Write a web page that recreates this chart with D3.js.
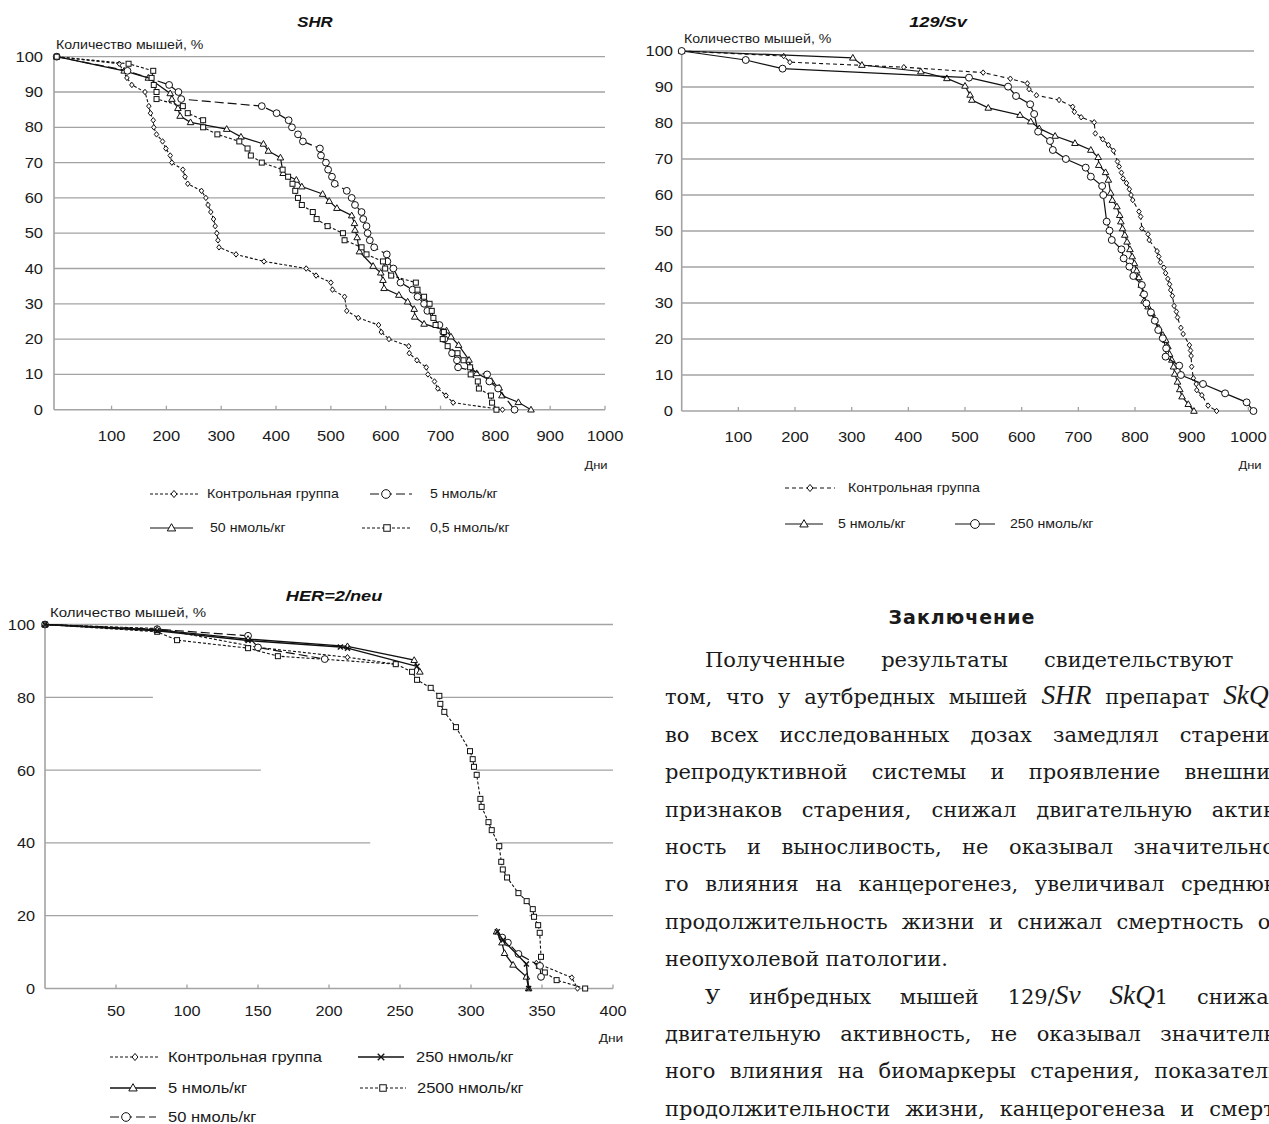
<!DOCTYPE html>
<html><head><meta charset="utf-8">
<script src="https://cdn.jsdelivr.net/npm/d3@7"></script>
<style>body{margin:0;background:#fff}svg{display:block}</style>
</head><body>
<svg id="fig" width="1269" height="1124"></svg>
<script>
// ---------- SHR: survival, % of mice vs days ----------
const shrControl = [[0,100],[114,98],[128,94],[137,92],[161,90],[168,86],[171,84],[176,82],[177,80],[182,78],[193,76],[199,74],[207,72],[210,70],[230,68],[234,66],[239,64],[264,62],[272,60],[276,58],[281,56],[286,54],[289,52],[292,50],[294,48],[296,46],[327,44],[378,42],[455,40],[473,38],[500,36],[503,34],[525,32],[529,28],[550,26],[587,24],[592,22],[606,20],[642,18],[643,16],[657,14],[674,12],[677,10],[689,8],[695,6],[710,4],[723,2],[813,0]];
const shr5 = [[0,100],[129,96],[205,92],[222,90],[227,88],[374,86],[401,84],[423,82],[429,80],[440,78],[449,76],[480,74],[482,72],[491,70],[495,68],[502,66],[507,64],[529,62],[538,60],[544,58],[556,56],[559,54],[565,52],[567,50],[571,48],[579,46],[602,44],[603,42],[614,40],[627,36],[649,34],[658,32],[670,30],[676,28],[698,24],[705,22],[707,20],[721,16],[730,14],[732,12],[785,10],[789,8],[805,6],[835,0]];
const shr50 = [[0,100],[123,96],[167,94],[207,89.6],[210,88],[221,85.4],[225,83.2],[244,81.4],[310,79.5],[336,77.3],[377,75.3],[386,73.3],[408,71.4],[413,67],[437,65.1],[447,63.2],[485,61.1],[497,59.1],[511,57.1],[538,55],[543,52.8],[544,50.9],[548,48.8],[552,44.8],[577,40.7],[591,38.8],[595,36.7],[597,34.4],[624,32.5],[640,30.6],[652,28.5],[653,26.3],[670,24.3],[711,22.4],[719,20.7],[733,18.3],[752,14.1],[754,12.2],[766,10.3],[793,8.1],[807,6.2],[812,4],[842,2.1],[865,0]];
const shr05 = [[0,100],[131,98],[176,96],[173,94],[177,92],[182,90],[182,88],[230,86],[239,84],[267,82],[267,80],[293,78],[333,76],[348,74],[354,72],[374,70],[412,68],[422,66],[430,64],[435,62],[440,60],[447,58],[467,56],[474,54],[494,52],[522,50],[525,48],[556,46],[565,44],[595,42],[599,40],[610,38],[655,36],[658,34],[670,32],[680,30],[684,28],[687,26],[691,24],[706,22],[704,20],[713,18],[731,16],[742,14],[754,12],[755,10],[768,8],[770,6],[792,4],[794,2],[802,0]];

// ---------- 129/Sv ----------
const svControl = [[0,100],[180,98.6],[191,96.9],[392,95.5],[532,94],[580,92.3],[610,91],[613,89.4],[626,87.7],[666,86.4],[690,84.5],[693,83.1],[705,81.6],[728,80.2],[730,77.1],[743,75.5],[753,73.9],[762,72.3],[769,69.3],[772,67.9],[776,66.2],[779,64.6],[785,63.3],[790,61.6],[793,60],[796,58.6],[807,55.4],[810,54],[812,50.7],[823,49.1],[825,47.5],[839,44.4],[842,42.9],[845,41.3],[851,39.8],[854,38.3],[858,36.7],[861,35.2],[863,33.6],[866,32],[869,29.2],[873,27.6],[875,26],[881,23.1],[885,21.4],[896,18.3],[898,16.8],[899,15.3],[900,12.3],[903,9.1],[908,7.5],[909,5.8],[918,4.4],[929,1.5],[944,0]];
const sv5 = [[0,100],[302,98.1],[318,96.1],[422,94.3],[468,92.4],[500,90.3],[509,87.8],[512,86.4],[541,84.2],[597,82.2],[616,80.4],[631,78.5],[659,76.4],[694,74.4],[722,72.5],[735,70.5],[736,68.3],[748,66.3],[753,64.2],[757,60.6],[760,58.6],[768,56.8],[773,54.4],[775,52.6],[778,50.7],[782,48.9],[786,47],[791,44.9],[795,42.9],[799,41],[803,39],[807,37.1],[811,35],[814,32.7],[816,30.6],[823,29],[830,27.1],[835,25.3],[842,23.1],[849,21.1],[854,19.7],[858,17.9],[861,15.8],[865,14.2],[868,12.3],[870,10.3],[875,8.1],[879,6],[883,4],[894,1.9],[904,0]];
const sv250 = [[0,100],[113,97.5],[178,95.1],[507,92.6],[576,90.1],[590,87.5],[615,85.2],[622,82.5],[629,77.6],[650,75],[655,72.5],[678,70],[713,67.6],[722,65.1],[742,62.5],[744,60],[750,52.6],[755,50.1],[759,47.5],[776,44.9],[780,42.4],[790,40.1],[797,37.5],[812,35],[816,32.4],[820,29.9],[828,27.4],[835,25.1],[841,22.5],[849,20.2],[855,17.4],[854,15.1],[878,12.6],[881,10],[920,7.5],[959,4.9],[997,2.4],[1009,0]];

// ---------- HER-2/neu (visible pieces of each curve) ----------
const herControlTop = [[0,100],[79,98.9],[150,93.7],[213,91],[247,89.1]];
const herControlBottom = [[346,7],[371,3],[375,0]];
const her5Top = [[0,100],[79,98.5],[143,96],[213,94],[260,90.2],[264,87]];
const her5Bottom = [[318,15.6],[321.8,12.6],[323.6,9.7],[329.6,6.5],[339,3.2],[340.6,0]];
const her50Top = [[0,100],[79,98.7],[143,96.9],[150,93.7],[197,90.5]];
const her50Bottom = [[322,14],[326,12.6],[333.4,9.5],[348.6,6.2],[349.3,3.2]];
const her250Top = [[0,100],[79,98.3],[143,95.6],[208,93.8],[213,93.5],[262,88.5]];
const her250Bottom = [[318.5,15.6],[322.6,13.3],[339,6.7],[340.6,0]];
const her2500 = [[0,100],[79,98],[93,95.7],[143,93.5],[164,91.3],[247,89.1],[258.5,87],[262,84.8],[271.6,82.6],[277.7,80.4],[278.4,78.2],[281.2,76],[289.4,71.8],[299.3,65.2],[301.2,63],[302.1,60.9],[304,58.7],[306.6,52.1],[307.5,49.9],[312.3,45.7],[314.6,43.5],[319.9,39.1],[321.3,34.8],[322.4,32.7],[325.4,30.5],[333.4,26.2],[339.2,24],[343.5,21.8],[344.4,19.7],[347.3,17.4],[348.4,15.3],[349.3,8.7],[347.8,6.2],[352,4.4],[360.3,2.3],[380.4,0]];
// gridline pieces drawn on this panel: [level, fromDay, toDay]
const herGridSegments = [[100,0,400],[80,0,76],[80,278,400],[60,0,152],[60,304,400],[40,0,229],[40,320,400],[20,0,305],[20,341,400]];

// ---------- tick values ----------
const ticksDays1000 = [100,200,300,400,500,600,700,800,900,1000];
const ticksPct10 = [0,10,20,30,40,50,60,70,80,90,100];
const ticksDays400 = [50,100,150,200,250,300,350,400];
const ticksPct20 = [0,20,40,60,80,100];

// ---------- text ----------
const yAxisTitle = 'Количество мышей, %';
const xAxisTitle = 'Дни';
const heading = 'Заключение';
const bodyLines = [
  {indent:true, justify:true, t:'Полученные результаты свидетельствуют о'},
  {indent:false, justify:true, t:'том, что у аутбредных мышей *SHR* препарат *SkQ*1'},
  {indent:false, justify:true, t:'во всех исследованных дозах замедлял старение'},
  {indent:false, justify:true, t:'репродуктивной системы и проявление внешних'},
  {indent:false, justify:true, t:'признаков старения, снижал двигательную актив-'},
  {indent:false, justify:true, t:'ность и выносливость, не оказывал значительно-'},
  {indent:false, justify:true, t:'го влияния на канцерогенез, увеличивал среднюю'},
  {indent:false, justify:true, t:'продолжительность жизни и снижал смертность от'},
  {indent:false, justify:false, t:'неопухолевой патологии.'},
  {indent:true, justify:true, t:'У инбредных мышей 129/*Sv* *SkQ*1 снижал'},
  {indent:false, justify:true, t:'двигательную активность, не оказывал значитель-'},
  {indent:false, justify:true, t:'ного влияния на биомаркеры старения, показатели'},
  {indent:false, justify:true, t:'продолжительности жизни, канцерогенеза и смерт-'}
];

// ================= drawing =================
const svg = d3.select('#fig');
svg.append('rect').attr('width',1269).attr('height',1124).attr('fill','#fff');
const SANS = '"Liberation Sans", Arial, Helvetica, sans-serif';
const SERIF = '"DejaVu Serif", "Liberation Serif", serif';
const GRID = '#a3a3a3';
const INK = '#111';

// sans label, optionally widened horizontally
function label(g, x, y, str, o) {
  return g.append('text')
    .attr('transform', `translate(${x},${y}) scale(${o.sx || 1},1)`)
    .attr('text-anchor', o.anchor || 'start')
    .attr('dy', o.dy || null)
    .attr('font-family', SANS).attr('font-size', o.size)
    .attr('font-weight', o.weight || null).attr('font-style', o.style || null)
    .attr('fill', o.fill || '#1a1a1a').text(str);
}

function marker(g, type, cx, cy, s) {
  const m = g.append('g').attr('transform', `translate(${cx},${cy})`);
  const st = el => el.attr('fill','#fff').attr('stroke',INK).attr('stroke-width',1);
  if (type === 'circle') st(m.append('circle').attr('r', s*0.62));
  else if (type === 'square') st(m.append('rect').attr('x',-s/2).attr('y',-s/2).attr('width',s).attr('height',s));
  else if (type === 'triangle') st(m.append('path').attr('d',`M0,${-s*0.62}L${s*0.6},${s*0.42}L${-s*0.6},${s*0.42}Z`));
  else if (type === 'diamond') st(m.append('path').attr('d',`M0,${-s*0.55}L${s*0.45},0L0,${s*0.55}L${-s*0.45},0Z`));
  else if (type === 'times') m.append('path').attr('d',`M${-s/2},${-s/2}L${s/2},${s/2}M${-s/2},${s/2}L${s/2},${-s/2}`).attr('stroke',INK).attr('stroke-width',1.4);
}

function drawSeries(g, x, y, pts, st) {
  const line = d3.line().x(d => x(d[0])).y(d => y(d[1]));
  g.append('path').attr('d', line(pts)).attr('fill','none').attr('stroke',INK)
    .attr('stroke-width', st.w || 1).attr('stroke-dasharray', st.dash || null);
  pts.forEach(p => marker(g, st.mark, x(p[0]), y(p[1]), st.size));
}

function drawFrame(g, x, y, o) {
  const [, x1] = x.range();
  const [yb] = y.range();
  if (o.segments) {
    o.segments.forEach(s => g.append('line').attr('x1', x(s[1])).attr('x2', x(s[2]))
      .attr('y1', y(s[0])).attr('y2', y(s[0])).attr('stroke', GRID).attr('stroke-width', 1.3));
  } else {
    o.yTicks.filter(t => t > 0).forEach(t => g.append('line').attr('x1', o.axisX).attr('x2', x1)
      .attr('y1', y(t)).attr('y2', y(t)).attr('stroke', GRID).attr('stroke-width', 1.3));
  }
  g.append('line').attr('x1', o.axisX).attr('x2', o.axisX).attr('y1', y(100)).attr('y2', yb)
    .attr('stroke', GRID).attr('stroke-width', 1.6);
  g.append('line').attr('x1', o.axisX).attr('x2', x1).attr('y1', yb).attr('y2', yb)
    .attr('stroke', GRID).attr('stroke-width', 1.6);
  o.xTicks.forEach(t => g.append('line').attr('x1', x(t)).attr('x2', x(t)).attr('y1', yb).attr('y2', yb - 4)
    .attr('stroke', GRID).attr('stroke-width', 1.3));
  o.yTicks.forEach(t => label(g, o.yLabelX, y(t), t, {size:o.tickSize, sx:o.sx, anchor:'end', dy:'0.36em'}));
  o.xTicks.forEach(t => label(g, x(t), o.xLabelY, t, {size:o.tickSize, sx:o.sx, anchor:'middle'}));
  label(g, o.yTitle[0], o.yTitle[1], yAxisTitle, {size:o.smallSize, sx:o.titleSx});
  label(g, o.xTitle[0], o.xTitle[1], xAxisTitle, {size:o.smallSize - 1, sx:o.titleSx, anchor:'middle'});
  label(g, o.title[0], o.title[1], o.titleText, {size:o.titleSize, sx:o.headSx, anchor:'middle', weight:'bold', style:'italic', fill:'#111'});
}

function legendItem(g, x1, x2, y, st, text, tx, fs, sx) {
  g.append('line').attr('x1',x1).attr('x2',x2).attr('y1',y).attr('y2',y).attr('stroke',INK)
    .attr('stroke-width', st.w || 1).attr('stroke-dasharray', st.dash || null);
  marker(g, st.mark, st.mx !== undefined ? st.mx : (x1 + x2) / 2, y, st.size + 1.5);
  label(g, tx, y, text, {size:fs, sx:sx, dy:'0.36em'});
}

// ----- SHR panel -----
{
  const g = svg.append('g');
  const x = d3.scaleLinear().domain([-5,1000]).range([54,605]);
  const y = d3.scaleLinear().domain([0,100]).range([409.7,56.7]);
  drawFrame(g, x, y, {axisX:54, yTicks:ticksPct10, xTicks:ticksDays1000, yLabelX:43, xLabelY:441, sx:1.18, titleSx:1.18, headSx:1.2,
    tickSize:14, smallSize:12, yTitle:[56,49], xTitle:[596,469], title:[315,27], titleSize:14, titleText:'SHR'});
  const sControl = {mark:'diamond', size:5, dash:'3,2', w:1.1};
  const s5 = {mark:'circle', size:5.5, dash:'9,4', w:1.2};
  const s50 = {mark:'triangle', size:5.5, w:1.2};
  const s05 = {mark:'square', size:5, dash:'3,2', w:1.1};
  drawSeries(g, x, y, shrControl, sControl);
  drawSeries(g, x, y, shr50, s50);
  drawSeries(g, x, y, shr5, s5);
  drawSeries(g, x, y, shr05, s05);
  legendItem(g, 150, 198, 494, sControl, 'Контрольная группа', 207, 12, 1.18);
  legendItem(g, 370, 412, 494, Object.assign({}, s5, {mx:386}), '5 нмоль/кг', 430, 12, 1.18);
  legendItem(g, 150, 193, 528, s50, '50 нмоль/кг', 210, 12, 1.18);
  legendItem(g, 362, 412, 528, s05, '0,5 нмоль/кг', 430, 12, 1.18);
}

// ----- 129/Sv panel -----
{
  const g = svg.append('g');
  const x = d3.scaleLinear().domain([0,1010]).range([681.7,1254]);
  const y = d3.scaleLinear().domain([0,100]).range([411,51]);
  drawFrame(g, x, y, {axisX:681.7, yTicks:ticksPct10, xTicks:ticksDays1000, yLabelX:673, xLabelY:442, sx:1.18, titleSx:1.18, headSx:1.3,
    tickSize:14, smallSize:12, yTitle:[684,43], xTitle:[1250,469], title:[938,27], titleSize:14, titleText:'129/Sv'});
  const sControl = {mark:'diamond', size:5, dash:'4,3', w:1.1};
  const s5 = {mark:'triangle', size:5.5, w:1.2};
  const s250 = {mark:'circle', size:5.6, w:1.2};
  drawSeries(g, x, y, svControl, sControl);
  drawSeries(g, x, y, sv5, s5);
  drawSeries(g, x, y, sv250, s250);
  legendItem(g, 785, 835, 488, sControl, 'Контрольная группа', 848, 12, 1.18);
  legendItem(g, 785, 823, 524, s5, '5 нмоль/кг', 838, 12, 1.18);
  legendItem(g, 955, 995, 524, s250, '250 нмоль/кг', 1010, 12, 1.18);
}

// ----- HER-2/neu panel -----
{
  const g = svg.append('g');
  const x = d3.scaleLinear().domain([0,400]).range([45,613]);
  const y = d3.scaleLinear().domain([0,100]).range([988.5,624.5]);
  drawFrame(g, x, y, {axisX:45, segments:herGridSegments, yTicks:ticksPct20, xTicks:ticksDays400, yLabelX:35, xLabelY:1016, sx:1.05, titleSx:1.25, headSx:1.3,
    tickSize:15.5, smallSize:12, yTitle:[50,617], xTitle:[611,1042], title:[334,601], titleSize:14, titleText:'HER=2/neu'});
  const sControl = {mark:'diamond', size:5, dash:'3,2', w:1.1};
  const s5 = {mark:'triangle', size:5.5, w:1.3};
  const s50 = {mark:'circle', size:5.5, dash:'9,4', w:1.2};
  const s250 = {mark:'times', size:5, w:1.4};
  const s2500 = {mark:'square', size:5, dash:'3,2', w:1.1};
  drawSeries(g, x, y, herControlTop, sControl);
  drawSeries(g, x, y, herControlBottom, sControl);
  drawSeries(g, x, y, her2500, s2500);
  drawSeries(g, x, y, her50Top, s50);
  drawSeries(g, x, y, her50Bottom, s50);
  drawSeries(g, x, y, her5Top, s5);
  drawSeries(g, x, y, her5Bottom, s5);
  drawSeries(g, x, y, her250Top, s250);
  drawSeries(g, x, y, her250Bottom, s250);
  legendItem(g, 110, 160, 1057, sControl, 'Контрольная группа', 168, 14, 1.18);
  legendItem(g, 358, 404, 1057, s250, '250 нмоль/кг', 416, 14, 1.18);
  legendItem(g, 110, 156, 1088, s5, '5 нмоль/кг', 168, 14, 1.18);
  legendItem(g, 360, 406, 1088, s2500, '2500 нмоль/кг', 417, 14, 1.18);
  legendItem(g, 110, 156, 1117, Object.assign({}, s50, {mx:126}), '50 нмоль/кг', 168, 14, 1.18);
}

// ----- text column -----
{
  const g = svg.append('g');
  g.append('text').attr('x', 962).attr('y', 624).attr('text-anchor','middle')
    .attr('font-family','"DejaVu Sans", sans-serif').attr('font-weight','bold').attr('font-size',19)
    .attr('letter-spacing', 1).attr('fill','#1a1a1a').text(heading);
  const left = 665, right = 1282, indent = 40, lh = 37.4, firstBase = 667, fs = 21;
  bodyLines.forEach((ln, i) => {
    const yb = firstBase + i * lh;
    const words = ln.t.split(' ');
    const nodes = words.map(w => {
      const t = g.append('text').attr('y', yb).attr('font-family', SERIF).attr('font-size', fs).attr('fill','#1a1a1a');
      w.split('*').forEach((seg, k) => {
        if (!seg) return;
        t.append('tspan').attr('font-style', k % 2 ? 'italic' : null)
          .attr('font-family', k % 2 ? '"Liberation Serif", serif' : null)
          .attr('font-size', k % 2 ? fs * 1.3 : null).text(seg);
      });
      return t;
    });
    const widths = nodes.map(n => n.node().getComputedTextLength());
    const start = left + (ln.indent ? indent : 0);
    const sum = d3.sum(widths);
    const space = ln.justify && nodes.length > 1 ? Math.max(5, (right - start - sum) / (nodes.length - 1)) : fs * 0.3;
    let cx = start;
    nodes.forEach((n, k) => { n.attr('x', cx); cx += widths[k] + space; });
  });
}
</script>
</body></html>
